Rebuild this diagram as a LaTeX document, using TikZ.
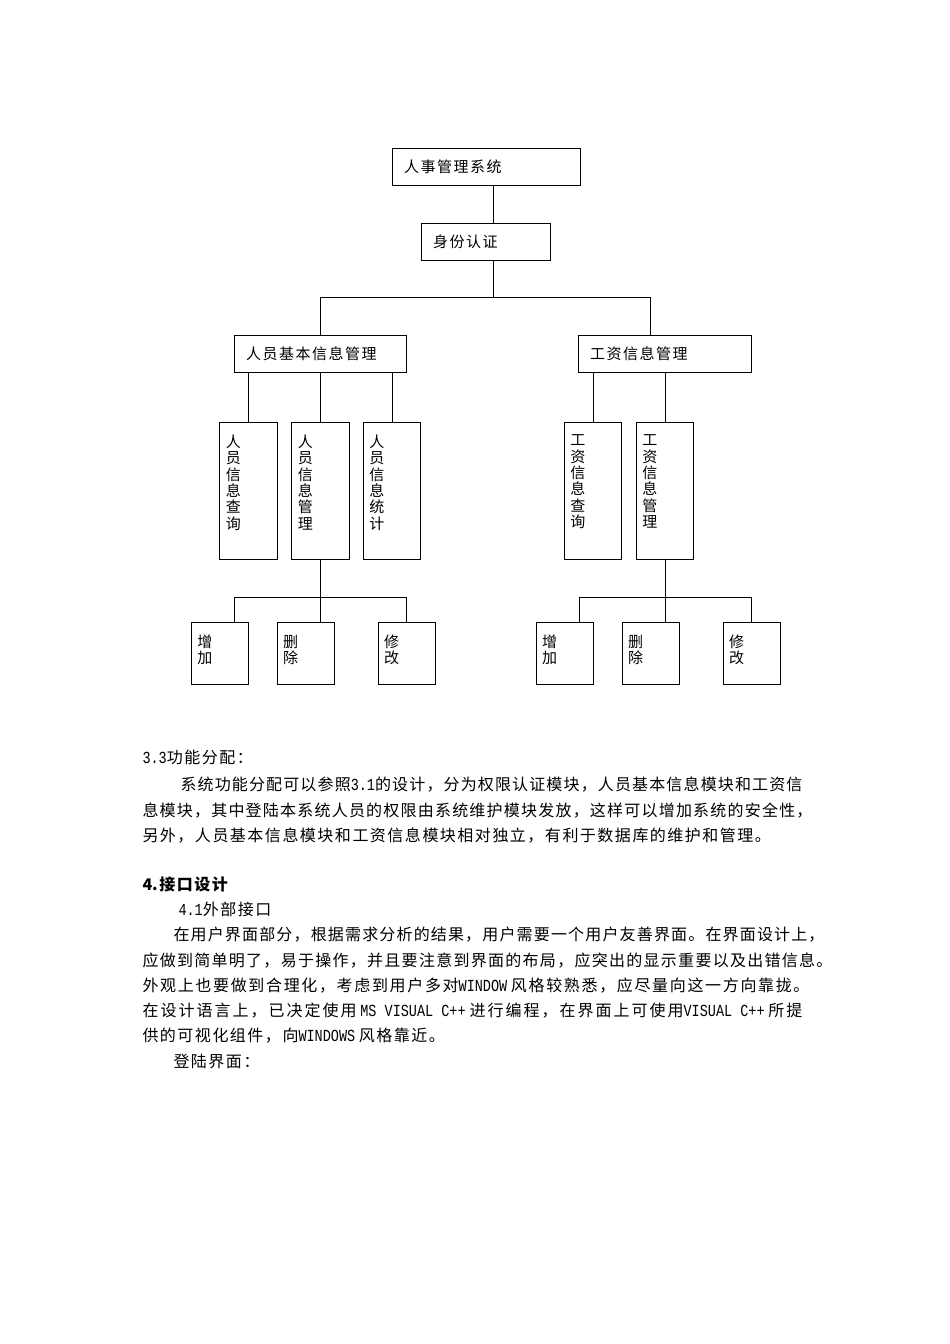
\documentclass[tikz,border=0pt]{standalone}
\usepackage{fontspec}
\setmainfont{Noto Sans CJK SC}
\newfontfamily\latf{Liberation Mono}
\newskip\cjkgap
\cjkgap=1.5pt plus 3pt minus 1pt\relax
\newXeTeXintercharclass\CJKcl
\count255="3000 \loop\XeTeXcharclass\count255=\CJKcl\relax\ifnum\count255<"9FFF\relax\advance\count255 by 1\relax\repeat
\count255="FF00 \loop\XeTeXcharclass\count255=\CJKcl\relax\ifnum\count255<"FFEF\relax\advance\count255 by 1\relax\repeat
\XeTeXinterchartoks\CJKcl\CJKcl={\hskip\cjkgap\relax}
\XeTeXinterchartoks 0 \CJKcl={\hskip\cjkgap\relax}
\XeTeXinterchartoks\CJKcl 0 ={\hskip\cjkgap\relax}
\XeTeXinterchartokenstate=1
\newcommand\lat[1]{\scalebox{1}[1.25]{\latf\fontsize{13.5}{16}\selectfont #1}}
\newcommand\diagf{\fontsize{15}{16.3}\selectfont}
\newcommand\bodyf{\fontsize{16}{20}\selectfont}
\begin{document}
\begin{tikzpicture}[x=1pt,y=-1pt,line width=1pt,
  box/.style={draw,rectangle,inner sep=0pt},
  hbox/.style={box,inner xsep=12pt,inner ysep=0pt,align=left,font=\diagf},
  vbox/.style={box,minimum width=57.5pt,minimum height=137.5pt},
  sbox/.style={box,minimum width=57.5pt,minimum height=62pt},
  vlbl/.style={inner sep=0pt,anchor=north west,align=left,font=\diagf},
  para/.style={inner sep=0pt,anchor=base west,font=\bodyf}]
\fill[white] (0,0) rectangle (950,1344);
\useasboundingbox (0,0) rectangle (950,1344);

% level boxes
\node[hbox,minimum width=188pt,minimum height=37pt,text width=164pt] (sys) at (486,167) {人事管理系统};
\node[hbox,minimum width=129.5pt,minimum height=37pt,text width=105.5pt] (auth) at (485.75,242) {身份认证};
\node[hbox,minimum width=172.5pt,minimum height=37pt,text width=148.5pt] (pm) at (320.25,354) {人员基本信息管理};
\node[hbox,minimum width=173.5pt,minimum height=37pt,text width=149.5pt] (wm) at (664.75,354) {工资信息管理};

\node[vbox] (q1) at (248.5,490.75) {};
\node[vbox] (m1) at (320.5,490.75) {};
\node[vbox] (s1) at (392,490.75) {};
\node[vbox] (q2) at (593,490.75) {};
\node[vbox] (m2) at (665,490.75) {};

\node[vlbl] (q1t) at ([shift={(6,13)}]q1.north west) {人\\员\\信\\息\\查\\询};
\node[vlbl] (m1t) at ([shift={(6,13)}]m1.north west) {人\\员\\信\\息\\管\\理};
\node[vlbl] (s1t) at ([shift={(6,13)}]s1.north west) {人\\员\\信\\息\\统\\计};
\node[vlbl] (q2t) at ([shift={(6,13)}]q2.north west) {工\\资\\信\\息\\查\\询};
\node[vlbl] (m2t) at ([shift={(6,13)}]m2.north west) {工\\资\\信\\息\\管\\理};

\node[sbox] (add1) at (220,653) {};
\node[sbox] (del1) at (305.75,653) {};
\node[sbox] (mod1) at (406.75,653) {};
\node[sbox] (add2) at (564.75,653) {};
\node[sbox] (del2) at (650.75,653) {};
\node[sbox] (mod2) at (751.75,653) {};

\node[vlbl] (add1t) at ([shift={(6,13)}]add1.north west) {增\\加};
\node[vlbl] (del1t) at ([shift={(6,13)}]del1.north west) {删\\除};
\node[vlbl] (mod1t) at ([shift={(6,13)}]mod1.north west) {修\\改};
\node[vlbl] (add2t) at ([shift={(6,13)}]add2.north west) {增\\加};
\node[vlbl] (del2t) at ([shift={(6,13)}]del2.north west) {删\\除};
\node[vlbl] (mod2t) at ([shift={(6,13)}]mod2.north west) {修\\改};

% connectors
\coordinate (j) at (493,297);
\coordinate (bl) at (320,297);
\coordinate (br) at (650,297);
\draw (sys.south -| j) -- (auth.north -| j);
\draw (auth.south -| j) -- (j);
\draw (pm.north -| bl) -- (bl) -- (br) -- (wm.north -| br);
\foreach \c in {q1,m1,s1} \draw (pm.south -| \c.north) -- (\c.north);
\foreach \c in {q2,m2} \draw (wm.south -| \c.north) -- (\c.north);

\coordinate (a1) at (234,597);
\coordinate (a2) at (579,597);
\draw (add1.north -| a1) -- (a1) -- (mod1.north |- a1) -- (mod1.north);
\draw (m1.south) -- (m1.south |- del1.north);
\draw (add2.north -| a2) -- (a2) -- (mod2.north |- a2) -- (mod2.north);
\draw (m2.south) -- (m2.south |- del2.north);

% body text
\node[para] (t1) at (142,763) {\lat{3.3}功能分配：};
\node[para] (t2) at (180,790) {\makebox[622pt][s]{系统功能分配可以参照\lat{3.1}的设计，分为权限认证模块，人员基本信息模块和工资信}};
\node[para] (t3) at (142,816) {\makebox[670pt][s]{息模块，其中登陆本系统人员的权限由系统维护模块发放，这样可以增加系统的安全性，}};
\node[para] (t4) at (142,841) {另外，人员基本信息模块和工资信息模块相对独立，有利于数据库的维护和管理。};
\node[para] (t5) at (142,890) {\bfseries 4.接口设计};
\node[para] (t6) at (178,915) {\lat{4.1}外部接口};
\node[para] (t7) at (173,940) {\makebox[651pt][s]{在用户界面部分，根据需求分析的结果，用户需要一个用户友善界面。在界面设计上，}};
\node[para] (t8) at (142,966) {\makebox[690pt][s]{应做到简单明了，易于操作，并且要注意到界面的布局，应突出的显示重要以及出错信息。}};
\node[para] (t9) at (142,991) {\makebox[667pt][s]{外观上也要做到合理化，考虑到用户多对\lat{WINDOW} 风格较熟悉，应尽量向这一方向靠拢。}};
\node[para] (t10) at (142,1016) {\makebox[660pt][s]{在设计语言上，已决定使用 \lat{MS VISUAL C++} 进行编程，在界面上可使用\lat{VISUAL C++} 所提}};
\node[para] (t11) at (142,1041) {供的可视化组件，向\lat{WINDOWS} 风格靠近。};
\node[para] (t12) at (173,1067) {登陆界面：};
\end{tikzpicture}
\end{document}
